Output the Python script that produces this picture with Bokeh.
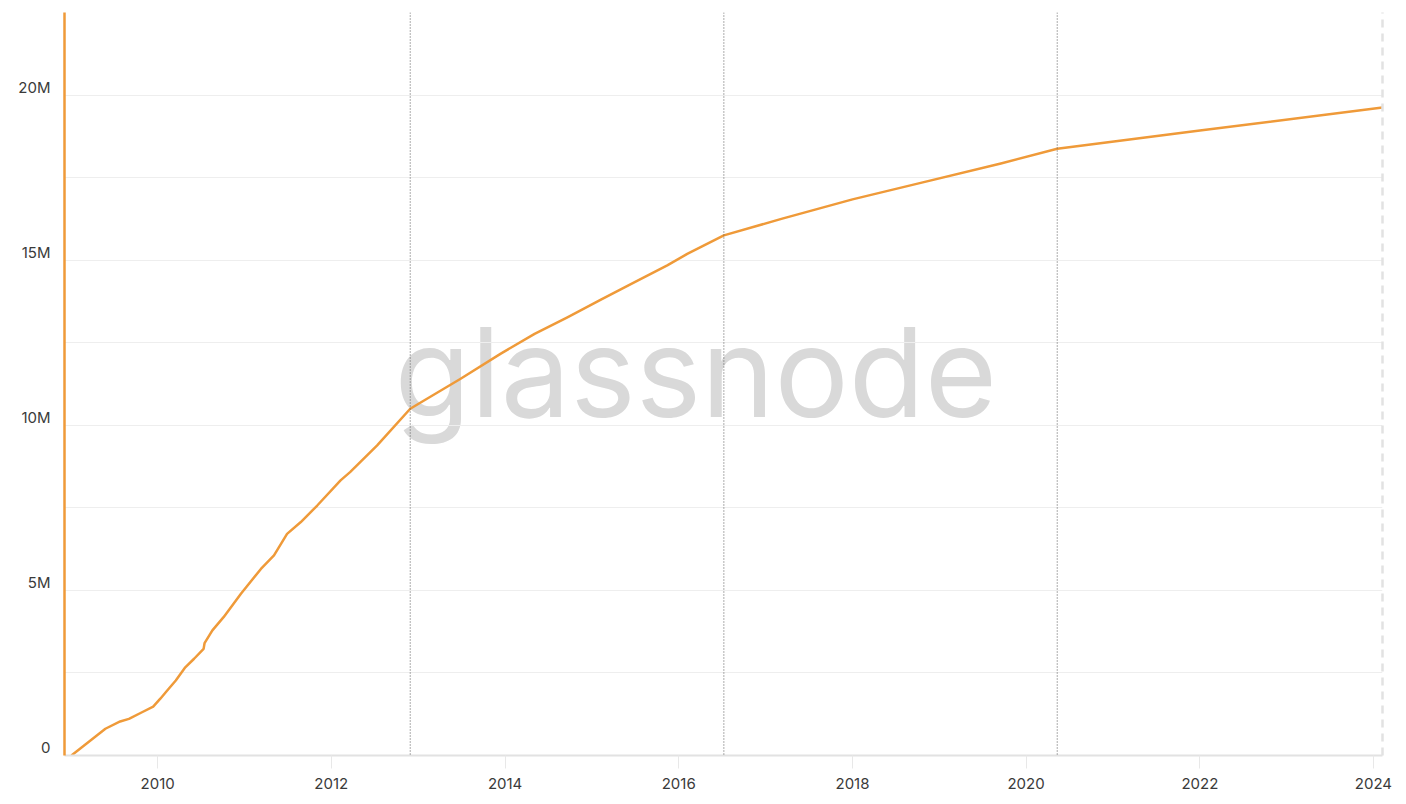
import pandas as pd
from bokeh.plotting import figure
from bokeh.models import (Range1d, LinearAxis, FixedTicker, Grid, Span, Label,
                          CustomJSTickFormatter, ColumnDataSource)
from bokeh.embed import file_html
from bokeh.resources import INLINE

# ---- data ----
dates = [
    "2009-01-03", "2009-05-26", "2009-07-27", "2009-09-02", "2009-10-27", "2009-12-13",
    "2010-01-12", "2010-02-10", "2010-03-18", "2010-04-27", "2010-06-03", "2010-07-13",
    "2010-07-17", "2010-08-19", "2010-10-05", "2010-12-17", "2011-03-11", "2011-05-05",
    "2011-06-29", "2011-08-26", "2011-11-03", "2012-02-09", "2012-03-20", "2012-07-12",
    "2012-11-28", "2013-01-11", "2013-06-28", "2013-12-14", "2014-05-05", "2014-09-20",
    "2015-02-06", "2015-06-28", "2015-11-14", "2016-02-06", "2016-07-09", "2017-03-08",
    "2018-01-01", "2018-10-15", "2019-09-17", "2020-05-11", "2022-01-01", "2024-02-08",
]
supply = [
    0.0, 0.81e6, 1.03e6, 1.11e6, 1.31e6, 1.48e6,
    1.72e6, 1.97e6, 2.27e6, 2.67e6, 2.93e6, 3.23e6,
    3.40e6, 3.79e6, 4.19e6, 4.90e6, 5.65e6, 6.06e6,
    6.71e6, 7.07e6, 7.57e6, 8.33e6, 8.58e6, 9.39e6,
    10.50e6, 10.69e6, 11.41e6, 12.17e6, 12.77e6, 13.27e6,
    13.80e6, 14.33e6, 14.84e6, 15.19e6, 15.75e6, 16.25e6,
    16.84e6, 17.34e6, 17.93e6, 18.375e6, 18.93e6, 19.62e6,
]
halving_dates = ["2012-11-28", "2016-07-09", "2020-05-11"]
x_tick_years = [2010, 2012, 2014, 2016, 2018, 2020, 2022, 2024]
y_tick_values = [0, 5e6, 10e6, 15e6, 20e6]
y_grid_values = [0, 2.5e6, 5e6, 7.5e6, 10e6, 12.5e6, 15e6, 17.5e6, 20e6, 22.5e6]
x_start, x_end = "2008-12-05", "2024-02-08"
y_start, y_end = 0, 22.5e6


def ms(d):
    return pd.Timestamp(d).timestamp() * 1000.0


ORANGE = "#ef9a39"
FONT = "Inter"
TXT = "#3a3a3a"

frame_w, frame_h = 1318, 743

src = ColumnDataSource(data=dict(date=pd.to_datetime(dates), supply=supply))

p = figure(
    x_axis_type="datetime",
    x_range=Range1d(ms(x_start), ms(x_end)),
    y_range=Range1d(y_start, y_end),
    frame_width=frame_w, frame_height=frame_h,
    min_border_left=64, min_border_top=12, min_border_bottom=45, min_border_right=10,
    y_axis_location=None,
    toolbar_location=None, output_backend="svg",
    background_fill_color="white", border_fill_color="white",
)
p.outline_line_color = None
p.xgrid.visible = False
for g in p.ygrid:
    g.visible = False

# horizontal grid
grid = Grid(dimension=1, ticker=FixedTicker(ticks=y_grid_values),
            grid_line_color="#eeeeee", grid_line_width=1)
p.add_layout(grid, "center")

# y axis labels raised ~8px above their grid line
off = 8 * (y_end - y_start) / frame_h
p.extra_y_ranges = {"lab": Range1d(y_start - off, y_end - off)}
yax = LinearAxis(
    y_range_name="lab",
    ticker=FixedTicker(ticks=y_tick_values),
    formatter=CustomJSTickFormatter(code="return tick == 0 ? '0' : (tick/1e6) + 'M';"),
    axis_line_color=ORANGE, axis_line_width=2.5,
    major_tick_line_color=None, minor_tick_line_color=None,
    major_label_standoff=8,
    major_label_text_font=FONT, major_label_text_font_size="15px",
    major_label_text_color=TXT,
)
p.add_layout(yax, "left")

# right dashed border
rax = LinearAxis(
    ticker=FixedTicker(ticks=[]),
    axis_line_color="#e2e2e2", axis_line_dash="8 6", axis_line_width=2.5,
    major_tick_line_color=None, minor_tick_line_color=None,
    major_label_text_color=None, major_label_text_font_size="1px",
    major_label_standoff=0,
)
p.add_layout(rax, "right")

# x axis
xax = p.xaxis[0]
xax.ticker = FixedTicker(ticks=[ms(f"{y}-01-01") for y in x_tick_years])
xax.formatter = CustomJSTickFormatter(code="return String(new Date(tick).getUTCFullYear());")
xax.axis_line_color = "#e2e2e2"
xax.axis_line_width = 2
xax.major_tick_in = 0
xax.major_tick_out = 13
xax.major_tick_line_color = "#e8e8e8"
xax.minor_tick_line_color = None
xax.major_label_standoff = 9
xax.major_label_text_font = FONT
xax.major_label_text_font_size = "15px"
xax.major_label_text_color = TXT

# watermark
wm = Label(x=ms("2016-03-13"), y=11.6e6, text="glassnode",
           text_font=FONT, text_font_size="124px", text_color="#d9d9d9",
           text_align="center", text_baseline="alphabetic", level="image")
p.add_layout(wm)

# halving lines
for d in halving_dates:
    p.add_layout(Span(location=ms(d), dimension="height", line_color="#5a5a5a",
                      line_dash="1 2", line_width=1))

p.line(x="date", y="supply", source=src, line_color=ORANGE, line_width=2.5,
       line_join="round")

open("out.html", "w").write(file_html(p, INLINE))
